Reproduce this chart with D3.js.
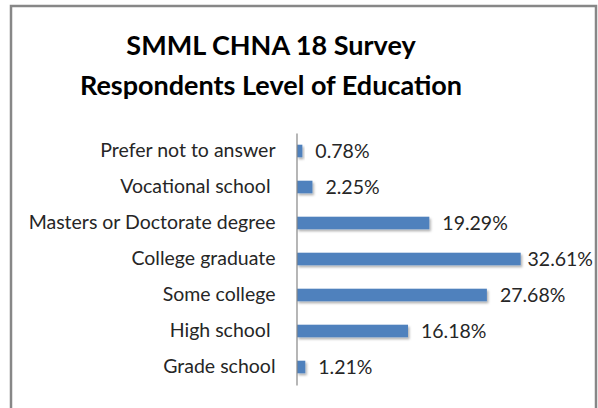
<!DOCTYPE html>
<html><head><meta charset="utf-8">
<script src="https://cdn.jsdelivr.net/npm/d3@7"></script>
<style>
html,body{margin:0;padding:0;background:#fff;}
svg{display:block;}
svg text{white-space:pre;}
</style></head>
<body><svg id="c" width="598" height="408"></svg>
<script>
const categories = ["Prefer not to answer","Vocational school ","Masters or Doctorate degree","College graduate","Some college","High school ","Grade school"];
const values = [0.78, 2.25, 19.29, 32.61, 27.68, 16.18, 1.21];
const valueLabels = ["0.78%","2.25%","19.29%","32.61%","27.68%","16.18%","1.21%"];
const titleLines = ["SMML CHNA 18 Survey","Respondents Level of Education"];

const svg = d3.select("#c");
const font = "Lato, 'Open Sans', sans-serif";

// frame
svg.append("rect").attr("x",11).attr("y",6).attr("width",585).attr("height",420)
  .attr("fill","#fff").attr("stroke","#878787").attr("stroke-width",2.5);

// shadow filter
const defs = svg.append("defs");
const f = defs.append("filter").attr("id","sh").attr("x","-20%").attr("y","-30%").attr("width","160%").attr("height","200%");
f.append("feDropShadow").attr("dx",1.5).attr("dy",2).attr("stdDeviation",1).attr("flood-color","#000").attr("flood-opacity",0.3);

// title
svg.append("g").selectAll("text").data(titleLines).join("text")
  .attr("x",271).attr("y",(d,i)=>55+i*40)
  .attr("text-anchor","middle").attr("font-family",font).attr("font-weight","bold")
  .attr("font-size",27).attr("fill","#000").text(d=>d);

const x = d3.scaleLinear().domain([0,35]).range([297, 297+35*6.86]);
const y = d3.scaleBand().domain(categories).range([133,385]).paddingInner(0.65).paddingOuter(0.325);

// bars
svg.append("g").selectAll("rect").data(values).join("rect")
  .attr("x",x(0)).attr("y",(d,i)=>y(categories[i]))
  .attr("width",d=>x(d)-x(0)).attr("height",y.bandwidth())
  .attr("fill","#4F81BD").attr("filter","url(#sh)");

// y axis
const ax = svg.append("g").attr("transform",`translate(${x(0)-0.5},0)`)
  .call(d3.axisLeft(y).tickSize(0).tickPadding(21));
ax.select(".domain").attr("stroke","#868686").attr("stroke-width",1.2);
ax.selectAll("text").attr("font-family",font).attr("font-size",19.5).attr("fill","#262626");

// value labels
const vl = svg.append("g").selectAll("text").data(values).join("text")
  .attr("y",(d,i)=>y(categories[i])+y.bandwidth()/2)
  .attr("dy","0.35em").attr("font-family",font).attr("font-size",19.5).attr("fill","#262626")
  .text((d,i)=>valueLabels[i]);
vl.each(function(d){
  const w = this.getComputedTextLength();
  const xs = Math.min(x(d)+13, 593-w);
  d3.select(this).attr("x", xs);
});
</script></body></html>
